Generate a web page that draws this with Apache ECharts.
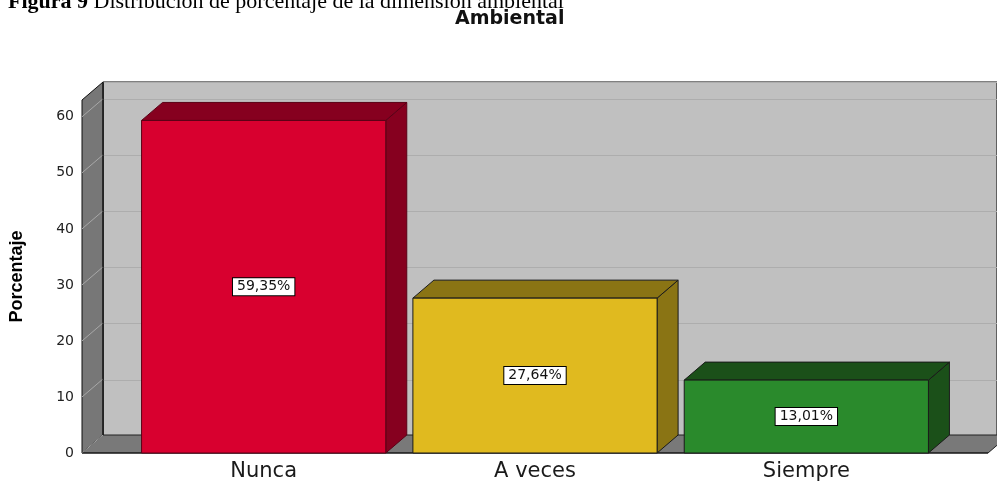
<!DOCTYPE html>
<html>
<head>
<meta charset="utf-8">
<script src="https://cdn.jsdelivr.net/npm/echarts@6/dist/echarts.min.js"></script>
<style>
  html, body { margin: 0; padding: 0; background: #ffffff; }
  #chart { width: 997px; height: 482px; }
</style>
</head>
<body>
<div id="chart"></div>
<script>
// Data
const categories = ['Nunca', 'A veces', 'Siempre'];
const percentages = [59.35, 27.64, 13.01];
const yTicks = [0, 10, 20, 30, 40, 50, 60];

// Face colours for each bar (front face, and the darker top/side faces)
const frontColors = ['#D8002F', '#E0BA1F', '#2A8A2C'];
const shadeColors = ['#86001F', '#8A7414', '#1B5019'];
const edgeColors  = ['#5a0016', '#1a1a1a', '#1a1a1a'];

// Layout of the 3D box
const Y_MAX = 63;
const DX = 21, DY = -18;          // depth offset of the box
const WALL_LEFT = 82;             // front edge of the left wall
const FLOOR_RIGHT = 988;          // front-right corner of the floor
const GRID_LEFT = 126, GRID_RIGHT = 55, GRID_TOP = 100, GRID_BOTTOM = 28;

const fmt = v => v.toFixed(2).replace('.', ',') + '%';

const chart = echarts.init(document.getElementById('chart'), null, { renderer: 'canvas' });

// Left wall, floor and the slanted grid lines on the left wall
function renderBox(params, api) {
  const yBase = api.coord([0, 0])[1];
  const yTop = api.coord([0, Y_MAX])[1];
  const children = [];
  children.push({
    type: 'polygon',
    shape: { points: [[WALL_LEFT, yTop], [WALL_LEFT + DX, yTop + DY], [WALL_LEFT + DX, yBase + DY], [WALL_LEFT, yBase]] },
    style: { fill: '#777777', stroke: '#111111', lineWidth: 1 }
  });
  children.push({
    type: 'polygon',
    shape: { points: [[WALL_LEFT, yBase], [WALL_LEFT + DX, yBase + DY], [FLOOR_RIGHT + DX, yBase + DY], [FLOOR_RIGHT, yBase]] },
    style: { fill: '#797979', stroke: '#222222', lineWidth: 1 }
  });
  yTicks.forEach(t => {
    const y = api.coord([0, t])[1];
    children.push({
      type: 'line',
      shape: { x1: WALL_LEFT, y1: y, x2: WALL_LEFT + DX, y2: y + DY },
      style: { stroke: '#A8A8A8', lineWidth: 1 }
    });
  });
  children.push({
    type: 'line',
    shape: { x1: WALL_LEFT + DX, y1: yTop + DY, x2: WALL_LEFT + DX, y2: yBase + DY },
    style: { stroke: '#111111', lineWidth: 1 }
  });
  children.push({
    type: 'line',
    shape: { x1: WALL_LEFT, y1: yBase, x2: FLOOR_RIGHT, y2: yBase },
    style: { stroke: '#111111', lineWidth: 1 }
  });
  return { type: 'group', children };
}

// 3D bar: front face, top face, side face and the value label
function renderBar(params, api) {
  const i = api.value(0);
  const v = api.value(1);
  const top = api.coord([i, v]);
  const yBase = api.coord([i, 0])[1];
  const w = api.size([1, 0])[0] * 0.9;
  const cx = top[0], yTop = top[1];
  const x0 = cx - w / 2, x1 = cx + w / 2;
  const edge = edgeColors[i];
  return {
    type: 'group',
    children: [
      {
        type: 'polygon',
        shape: { points: [[x1, yTop], [x1 + DX, yTop + DY], [x1 + DX, yBase + DY], [x1, yBase]] },
        style: { fill: shadeColors[i], stroke: edge, lineWidth: 1 }
      },
      {
        type: 'polygon',
        shape: { points: [[x0, yTop], [x0 + DX, yTop + DY], [x1 + DX, yTop + DY], [x1, yTop]] },
        style: { fill: shadeColors[i], stroke: edge, lineWidth: 1 }
      },
      {
        type: 'rect',
        shape: { x: x0, y: yTop, width: w, height: yBase - yTop },
        style: { fill: frontColors[i], stroke: edge, lineWidth: 1 }
      },
      {
        type: 'text',
        x: cx,
        y: (yTop + yBase) / 2,
        style: {
          text: fmt(v),
          fill: '#111111',
          fontSize: 14,
          fontFamily: 'DejaVu Sans',
          align: 'center',
          verticalAlign: 'middle',
          backgroundColor: '#ffffff',
          borderColor: '#000000',
          borderWidth: 1,
          padding: [2, 4, 1, 4]
        }
      }
    ]
  };
}

const option = {
  animation: false,
  backgroundColor: '#ffffff',
  title: [
    {
      text: 'Ambiental',
      left: 455,
      top: 10,
      padding: 0,
      textStyle: { fontSize: 19, fontWeight: 'bold', fontFamily: 'DejaVu Sans', color: '#111111' }
    }
  ],
  graphic: [
    {
      type: 'text',
      x: 8,
      y: 13,
      style: {
        text: '{b|Figura 9} Distribución de porcentaje de la dimensión ambiental',
        verticalAlign: 'bottom',
        fontSize: 22,
        fontFamily: 'Liberation Serif',
        fill: '#000000',
        rich: {
          b: { fontSize: 22, fontFamily: 'Liberation Serif', fontWeight: 'bold', fill: '#000000' }
        }
      }
    }
  ],
  grid: [
    { left: GRID_LEFT, right: GRID_RIGHT, top: GRID_TOP, bottom: GRID_BOTTOM },
    {
      left: WALL_LEFT + DX, right: -5, top: GRID_TOP + DY, bottom: GRID_BOTTOM - DY,
      show: true, backgroundColor: '#C0C0C0', borderColor: '#000000', borderWidth: 1
    }
  ],
  xAxis: [
    {
      type: 'category',
      gridIndex: 0,
      data: categories,
      axisLine: { show: false },
      axisTick: { show: false },
      axisLabel: { margin: 8, fontSize: 21, fontFamily: 'DejaVu Sans', color: '#1a1a1a' }
    },
    { type: 'category', gridIndex: 1, data: categories, show: false }
  ],
  yAxis: [
    {
      type: 'value',
      gridIndex: 0,
      min: 0,
      max: Y_MAX,
      interval: 10,
      offset: GRID_LEFT - WALL_LEFT,
      name: 'Porcentaje',
      nameLocation: 'middle',
      nameGap: 58,
      nameTextStyle: {
        fontSize: 18, fontWeight: 'bold', color: '#000000',
        fontFamily: '"Liberation Sans", Arial, sans-serif'
      },
      axisLine: { show: false },
      axisTick: { show: false },
      splitLine: { show: false },
      axisLabel: {
        margin: 10, fontSize: 14, fontFamily: 'DejaVu Sans', color: '#222222',
        formatter: v => (yTicks.indexOf(v) >= 0 ? String(v) : '')
      }
    },
    {
      type: 'value',
      gridIndex: 1,
      min: 0,
      max: Y_MAX,
      interval: 10,
      axisLine: { show: false },
      axisTick: { show: false },
      axisLabel: { show: false },
      splitLine: { show: true, lineStyle: { color: '#ADADAD', width: 1 } }
    }
  ],
  series: [
    {
      type: 'custom',
      name: 'caja',
      xAxisIndex: 0,
      yAxisIndex: 0,
      z: 1,
      silent: true,
      renderItem: renderBox,
      data: [[0, 0]]
    },
    {
      type: 'custom',
      name: 'Porcentaje',
      xAxisIndex: 0,
      yAxisIndex: 0,
      z: 3,
      renderItem: renderBar,
      encode: { x: 0, y: 1 },
      data: categories.map((c, i) => [i, percentages[i]])
    }
  ]
};

chart.setOption(option);
</script>
</body>
</html>
